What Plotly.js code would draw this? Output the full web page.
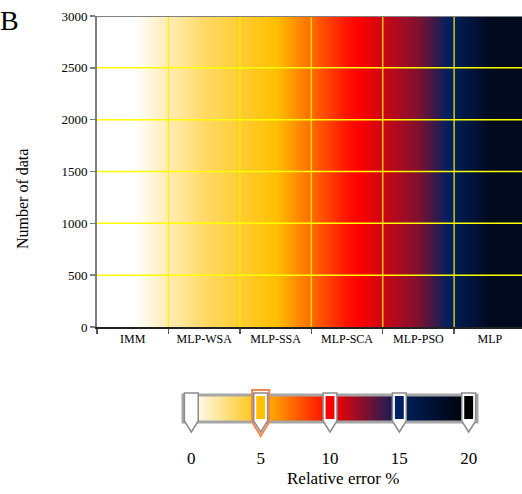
<!DOCTYPE html>
<html>
<head>
<meta charset="utf-8">
<script src="https://cdn.plot.ly/plotly-3.0.1.min.js"></script>
<style>html,body{margin:0;padding:0;background:#fff;}#chart{width:522px;height:494px;}</style>
</head>
<body>
<div id="chart"></div>
<script>
// Data
const categories = ["IMM", "MLP-WSA", "MLP-SSA", "MLP-SCA", "MLP-PSO", "MLP"];
const relativeError = [0, 3, 5, 9.5, 12.5, 18.5];   // estimated colour level of each model
const yEdges = [0, 3000];
const yTicks = [0, 500, 1000, 1500, 2000, 2500, 3000];
const cbTicks = [0, 5, 10, 15, 20];
const stopValues = [0, 5, 10, 15, 20];
const stopColors = ["#ffffff", "#ffc000", "#ff0000", "#002060", "#000000"];

const zMax = stopValues[stopValues.length - 1];
const colorscale = stopValues.map((v, i) => [v / zMax, stopColors[i]]);

const serif = "Liberation Serif, Times New Roman, serif";

// layout geometry helpers (pixels -> paper)
const W = 522, H = 494, ML = 97, MR = 0, MT = 16, MB = 10;
const PW = W - ML - MR, PH = H - MT - MB;
const px2x = p => (p - ML) / PW;
const py2y = p => (H - MB - p) / PH;

const mainTrace = {
  type: "heatmap",
  x: categories, y: yEdges, z: [relativeError],
  zmin: 0, zmax: zMax, zsmooth: "best",
  colorscale: colorscale, showscale: false, hoverinfo: "skip",
  xaxis: "x", yaxis: "y"
};

const barTrace = {
  type: "heatmap",
  x: stopValues, y: [0, 1], z: [stopValues],
  zmin: 0, zmax: zMax, zsmooth: "best",
  colorscale: colorscale, showscale: false, hoverinfo: "skip",
  xaxis: "x2", yaxis: "y2"
};

const shapes = [];
// vertical yellow grid lines at category boundaries
for (let i = 1; i < categories.length; i++) {
  shapes.push({type: "line", xref: "x", yref: "y", x0: i - 0.5, x1: i - 0.5, y0: yEdges[0], y1: yEdges[1],
    line: {color: "rgba(250,235,0,0.85)", width: 1.5}});
}
// horizontal yellow grid lines
yTicks.slice(1, -1).forEach(v => {
  shapes.push({type: "line", xref: "paper", yref: "y", x0: 0, x1: 1, y0: v, y1: v,
    line: {color: "#ffff00", width: 1.5}});
});
// top border
shapes.push({type: "line", xref: "paper", yref: "y", x0: 0, x1: 1, y0: 3000, y1: 3000,
  line: {color: "#808080", width: 2}});
// colour bar frame
shapes.push({type: "rect", xref: "x2 domain", yref: "y2 domain", x0: 0, x1: 1, y0: 0, y1: 1,
  line: {color: "#a6a6a6", width: 3}});
// gradient stop handles
const yTop = py2y(393), yShoulder = py2y(421), yTip = py2y(432), yIn0 = py2y(396), yIn1 = py2y(419);
stopValues.forEach((v, i) => {
  const hw = 0.5;
  if (i === 1) {
    const o = 0.62;
    shapes.push({type: "path", xref: "x2", yref: "paper",
      path: `M ${v - o},${py2y(390)} L ${v + o},${py2y(390)} L ${v + o},${py2y(422)} L ${v},${py2y(436)} L ${v - o},${py2y(422)} Z`,
      fillcolor: "rgba(0,0,0,0)", line: {color: "#f4874b", width: 2}});
  }
  shapes.push({type: "path", xref: "x2", yref: "paper",
    path: `M ${v - hw},${yTop} L ${v + hw},${yTop} L ${v + hw},${yShoulder} L ${v},${yTip} L ${v - hw},${yShoulder} Z`,
    fillcolor: "#ffffff", line: {color: "#8c8c8c", width: 1.5}});
  shapes.push({type: "rect", xref: "x2", yref: "paper", x0: v - 0.32, x1: v + 0.32, y0: yIn1, y1: yIn0,
    fillcolor: stopColors[i], line: {width: 0}});
});

const layout = {
  width: W, height: H,
  margin: {l: ML, r: MR, t: MT, b: MB, autoexpand: false},
  paper_bgcolor: "#fff", plot_bgcolor: "#fff",
  showlegend: false,
  xaxis: {
    type: "category", anchor: "y", domain: [0, 1],
    range: [-0.5, 5.45],
    tickson: "boundaries",
    ticks: "outside", ticklen: 5, tickcolor: "#555", tickwidth: 1.5,
    showline: true, linecolor: "#222", linewidth: 2,
    showgrid: false, zeroline: false,
    tickfont: {family: serif, size: 12, color: "#000"},
    layer: "above traces", fixedrange: true
  },
  yaxis: {
    anchor: "x", domain: [py2y(327), 1],
    range: [0, 3000],
    tickvals: yTicks,
    ticks: "outside", ticklen: 5, tickcolor: "#808080", tickwidth: 1.5,
    showline: true, linecolor: "#808080", linewidth: 2,
    showgrid: false, zeroline: false,
    tickfont: {family: serif, size: 13, color: "#000"},
    layer: "above traces", fixedrange: true
  },
  xaxis2: {
    anchor: "y2", domain: [px2x(183), px2x(477)],
    range: [-0.6, 20.6],
    tickvals: cbTicks, ticktext: cbTicks.map(String),
    ticks: "outside", ticklen: 21, tickcolor: "rgba(0,0,0,0)",
    showline: false, showgrid: false, zeroline: false,
    tickfont: {family: serif, size: 17, color: "#000"},
    fixedrange: true
  },
  yaxis2: {
    anchor: "x2", domain: [py2y(422), py2y(395)],
    range: [0, 1], visible: false, fixedrange: true
  },
  shapes: shapes,
  annotations: [
    {text: "B", xref: "paper", yref: "paper", x: px2x(-2), y: py2y(3), xanchor: "left", yanchor: "top",
      showarrow: false, font: {family: serif, size: 28, color: "#000"}},
    {text: "Number of data", xref: "paper", yref: "paper", x: px2x(22), y: py2y(199), xanchor: "center", yanchor: "middle",
      textangle: -90, showarrow: false, font: {family: serif, size: 16, color: "#000"}},
    {text: "Relative error %", xref: "paper", yref: "paper", x: px2x(343), y: py2y(478), xanchor: "center", yanchor: "middle",
      showarrow: false, font: {family: serif, size: 17, color: "#000"}}
  ]
};

Plotly.newPlot("chart", [mainTrace, barTrace], layout, {displayModeBar: false, staticPlot: true});
</script>
</body>
</html>
